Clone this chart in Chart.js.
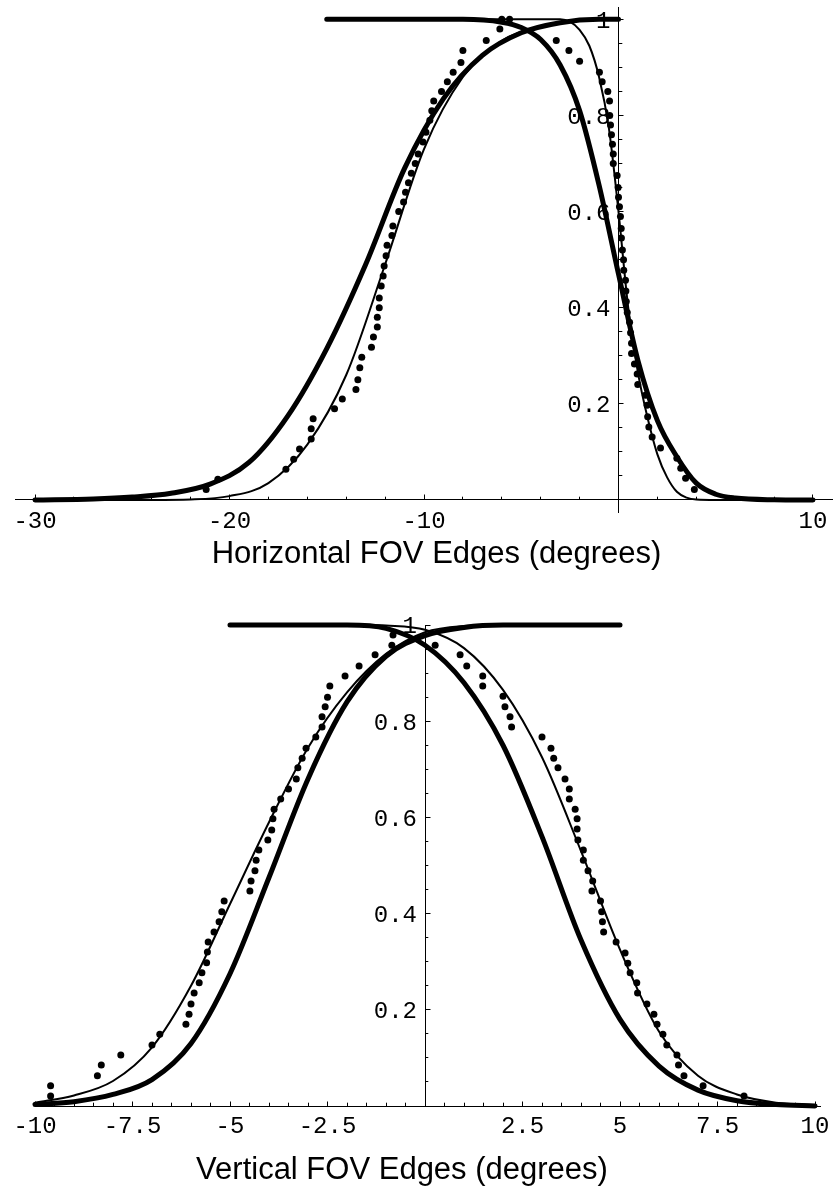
<!DOCTYPE html>
<html><head><meta charset="utf-8">
<script src="https://cdn.jsdelivr.net/npm/chart.js@4.4.1/dist/chart.umd.min.js"></script>
<style>
html,body{margin:0;padding:0;background:#fff;}
body{position:relative;width:833px;height:1191px;overflow:hidden;}
canvas{position:absolute;}
#c1{left:-30px;top:-40px;}
#c2{left:-40px;top:560px;}
</style></head><body>
<canvas id="c1" width="900" height="633"></canvas>
<canvas id="c2" width="900" height="644"></canvas>
<script>
// ---------- Horizontal FOV chart data ----------
const hThickRiseX = [-30, -27, -25, -23, -21, -19, -17, -15, -13, -11, -9, -7, -5, -3, -1, 0];
const hThickRiseY = [0, 0.002, 0.006, 0.014, 0.033, 0.078, 0.175, 0.315, 0.49, 0.69, 0.835, 0.925, 0.972, 0.993, 1, 1];
const hThinRiseX = [-30, -24, -22, -20, -18, -16, -14, -12, -10, -8, -6, -4, -2, 0];
const hThinRiseY = [0, 0, 0.001, 0.008, 0.035, 0.115, 0.26, 0.49, 0.73, 0.88, 0.955, 0.985, 0.998, 1];
const hThickFallX = [-15, -8, -6, -5, -4, -3, -2, -1, 0, 1, 2, 3, 4, 5, 6, 8, 10];
const hThickFallY = [1, 1, 0.994, 0.983, 0.958, 0.905, 0.81, 0.655, 0.47, 0.29, 0.165, 0.09, 0.035, 0.012, 0.004, 0.0005, 0];
const hThinFallX = [-15, -3, -2.5, -2, -1.5, -1, -0.5, 0, 0.5, 1, 1.5, 2, 2.5, 3, 3.5, 4, 5, 10];
const hThinFallY = [1, 1, 0.995, 0.978, 0.945, 0.88, 0.775, 0.60, 0.40, 0.265, 0.17, 0.095, 0.047, 0.017, 0.005, 0.001, 0, 0];
const hDotsRiseX = [-21.2, -20.6, -17.1, -16.7, -16.4, -15.8, -15.8, -15.7, -14.6, -14.2, -13.5, -13.4, -13.3, -13.2, -12.7, -12.6, -12.4, -12.4, -12.3, -12.3, -12.2, -12.1, -12.05, -11.95, -11.9, -11.65, -11.6, -11.3, -11.05, -10.95, -10.8, -10.65, -10.45, -10.3, -10.05, -9.9, -9.7, -9.6, -9.5, -9.1, -8.8, -8.5, -8.1, -8.0, -6.8, -6.1, -6.0, -5.6];
const hDotsRiseY = [0.022, 0.043, 0.064, 0.085, 0.106, 0.127, 0.148, 0.169, 0.19, 0.21, 0.23, 0.25, 0.275, 0.297, 0.318, 0.339, 0.36, 0.38, 0.40, 0.42, 0.445, 0.466, 0.487, 0.508, 0.53, 0.55, 0.57, 0.60, 0.62, 0.64, 0.66, 0.68, 0.70, 0.72, 0.745, 0.765, 0.79, 0.81, 0.83, 0.85, 0.87, 0.89, 0.91, 0.935, 0.956, 0.98, 1.0, 1.0];
const hDotsFallX = [-3.2, -2.55, -2.0, -0.98, -0.84, -0.55, -0.46, -0.45, -0.41, -0.36, -0.31, -0.27, -0.27, -0.07, -0.02, 0.0, 0.05, 0.1, 0.14, 0.15, 0.2, 0.26, 0.27, 0.36, 0.38, 0.40, 0.45, 0.57, 0.62, 0.67, 0.67, 0.82, 0.96, 0.99, 1.38, 1.47, 1.5, 1.56, 1.73, 2.16, 3.0, 3.2, 3.45, 3.9];
const hDotsFallY = [0.956, 0.935, 0.913, 0.89, 0.87, 0.85, 0.83, 0.80, 0.78, 0.76, 0.74, 0.72, 0.70, 0.675, 0.65, 0.63, 0.61, 0.59, 0.565, 0.545, 0.52, 0.50, 0.478, 0.457, 0.435, 0.413, 0.39, 0.37, 0.348, 0.326, 0.305, 0.283, 0.262, 0.24, 0.218, 0.197, 0.173, 0.152, 0.131, 0.108, 0.087, 0.066, 0.045, 0.022];
const hXMajor = [-30, -20, -10, 10];
const hXLabels = ['-30', '-20', '-10', '10'];
const hXMinor = [-28, -26, -24, -22, -18, -16, -14, -12, -8, -6, -4, -2, 2, 4, 6, 8];
const hYMajor = [0.2, 0.4, 0.6, 0.8, 1];
const hYLabels = ['0.2', '0.4', '0.6', '0.8', '1'];
const hYMinor = [0.05, 0.1, 0.15, 0.25, 0.3, 0.35, 0.45, 0.5, 0.55, 0.65, 0.7, 0.75, 0.85, 0.9, 0.95];
const hTitle = 'Horizontal FOV Edges (degrees)';

// ---------- Vertical FOV chart data ----------
const vThickRiseX = [-10, -9, -8, -7, -6, -5, -4, -3, -2, -1, 0, 1, 2, 5];
const vThickRiseY = [0.003, 0.009, 0.024, 0.055, 0.13, 0.275, 0.475, 0.68, 0.84, 0.935, 0.978, 0.995, 1, 1];
const vThinRiseX = [-10, -9, -8, -7, -6, -5, -4, -3, -2, -1, 0, 1, 2, 5];
const vThinRiseY = [0.007, 0.022, 0.052, 0.122, 0.25, 0.42, 0.59, 0.745, 0.86, 0.94, 0.985, 0.998, 1, 1];
const vThickFallX = [-5, -2, -1, 0, 1, 2, 3, 4, 5, 6, 7, 8, 9, 10];
const vThickFallY = [1, 1, 0.993, 0.958, 0.88, 0.75, 0.56, 0.345, 0.18, 0.083, 0.033, 0.011, 0.003, 0];
const vThinFallX = [-5, -1.5, -1, 0, 1, 2, 3, 4, 5, 6, 7, 8, 9, 10];
const vThinFallY = [1, 1, 0.999, 0.99, 0.952, 0.865, 0.725, 0.53, 0.325, 0.155, 0.063, 0.024, 0.007, 0.002];
const vDotsRiseX = [-9.6, -9.6, -8.4, -8.3, -7.8, -7.0, -6.8, -6.13, -6.05, -6.0, -5.92, -5.79, -5.72, -5.6, -5.58, -5.56, -5.41, -5.28, -5.21, -5.15, -4.49, -4.46, -4.36, -4.33, -4.26, -4.03, -3.93, -3.9, -3.87, -3.7, -3.5, -3.3, -3.26, -3.15, -3.05, -2.8, -2.64, -2.64, -2.56, -2.5, -2.44, -2.05, -1.69, -1.28, -0.85, -0.82];
const vDotsRiseY = [0.021, 0.042, 0.063, 0.085, 0.106, 0.127, 0.149, 0.170, 0.191, 0.212, 0.235, 0.256, 0.277, 0.298, 0.32, 0.341, 0.362, 0.383, 0.404, 0.426, 0.447, 0.468, 0.489, 0.511, 0.532, 0.553, 0.574, 0.597, 0.617, 0.638, 0.659, 0.68, 0.703, 0.723, 0.744, 0.767, 0.788, 0.809, 0.83, 0.85, 0.873, 0.894, 0.915, 0.938, 0.958, 0.979];
const vDotsFallX = [0.26, 0.9, 1.07, 1.48, 1.48, 2.0, 2.05, 2.18, 2.22, 3.0, 3.23, 3.3, 3.41, 3.59, 3.7, 3.7, 3.85, 3.9, 3.9, 3.92, 4.06, 4.06, 4.18, 4.3, 4.28, 4.5, 4.53, 4.55, 4.58, 4.9, 5.13, 5.2, 5.26, 5.43, 5.45, 5.69, 5.87, 5.95, 6.1, 6.2, 6.46, 6.5, 6.64, 7.13, 8.18];
const vDotsFallY = [0.958, 0.938, 0.915, 0.894, 0.873, 0.852, 0.83, 0.809, 0.788, 0.767, 0.744, 0.723, 0.703, 0.68, 0.659, 0.638, 0.617, 0.597, 0.576, 0.553, 0.532, 0.511, 0.489, 0.468, 0.447, 0.426, 0.404, 0.383, 0.362, 0.341, 0.318, 0.297, 0.277, 0.256, 0.235, 0.212, 0.191, 0.170, 0.149, 0.127, 0.106, 0.085, 0.063, 0.042, 0.021];
const vXMajor = [-10, -7.5, -5, -2.5, 2.5, 5, 7.5, 10];
const vXLabels = ['-10', '-7.5', '-5', '-2.5', '2.5', '5', '7.5', '10'];
const vXMinor = [-9.5, -9, -8.5, -8, -7, -6.5, -6, -5.5, -4.5, -4, -3.5, -3, -2, -1.5, -1, -0.5, 0.5, 1, 1.5, 2, 3, 3.5, 4, 4.5, 5.5, 6, 6.5, 7, 8, 8.5, 9, 9.5];
const vYMajor = [0.2, 0.4, 0.6, 0.8, 1];
const vYLabels = ['0.2', '0.4', '0.6', '0.8', '1'];
const vYMinor = [0.05, 0.1, 0.15, 0.25, 0.3, 0.35, 0.45, 0.5, 0.55, 0.65, 0.7, 0.75, 0.85, 0.9, 0.95];
const vTitle = 'Vertical FOV Edges (degrees)';

// ---------- helpers ----------
const monoFont = {family: "'Liberation Mono', 'Courier New', monospace", size: 24, weight: 'normal'};
const sansFont = {family: "'Liberation Sans', Arial, Helvetica, sans-serif", size: 31, weight: 'normal'};
const pts = (xs, ys) => xs.map((x, i) => ({x: x, y: ys[i]}));
const curve = (xs, ys, w) => ({
  data: pts(xs, ys), showLine: true, borderColor: '#000', borderWidth: w,
  pointRadius: 0, pointHoverRadius: 0, cubicInterpolationMode: 'monotone',
  borderCapStyle: 'round', borderJoinStyle: 'round', clip: false, xAxisID: 'x', yAxisID: 'y'
});
const dots = (xs, ys) => ({
  data: pts(xs, ys), showLine: false, pointRadius: 3.5, pointHoverRadius: 3.5,
  pointBackgroundColor: '#000', pointBorderWidth: 0, clip: false, xAxisID: 'x', yAxisID: 'y'
});
const setTicks = vals => axis => { axis.ticks = vals.map(v => ({value: v})); };

function makeScales(c) {
  const tickGrid = len => ({display: true, drawOnChartArea: false, drawTicks: true, tickLength: len, tickColor: '#000', tickWidth: 1});
  return {
    x: {type: 'linear', axis: 'x', min: c.xMin, max: c.xMax, position: {y: 0},
        afterBuildTicks: setTicks(c.xMajor),
        border: {display: true, color: '#000', width: 1},
        grid: tickGrid(-5.5),
        ticks: {display: true, autoSkip: false, maxRotation: 0, minRotation: 0, padding: c.xPad,
                font: monoFont, color: '#000', callback: (v, i) => c.xLabels[i]}},
    xm: {type: 'linear', axis: 'x', min: c.xMin, max: c.xMax, position: {y: 0},
        afterBuildTicks: setTicks(c.xMinor),
        border: {display: false}, grid: tickGrid(-3.3), ticks: {display: false, autoSkip: false}},
    y: {type: 'linear', axis: 'y', min: c.yMin, max: c.yMax, position: {x: 0},
        afterBuildTicks: setTicks(c.yMajor),
        border: {display: true, color: '#000', width: 1},
        grid: tickGrid(-5.5), ticks: {display: false, autoSkip: false}},
    ym: {type: 'linear', axis: 'y', min: c.yMin, max: c.yMax, position: {x: 0},
        afterBuildTicks: setTicks(c.yMinor),
        border: {display: false}, grid: tickGrid(-3.3), ticks: {display: false, autoSkip: false}},
    yl: {type: 'linear', axis: 'y', min: c.yMin, max: c.yMax, position: {x: c.yLabelAt},
        afterBuildTicks: setTicks(c.yMajor),
        border: {display: false}, grid: {display: false, drawTicks: false},
        ticks: {display: true, autoSkip: false, padding: 0, labelOffset: 2, font: monoFont, color: '#000',
                callback: (v, i) => c.yLabels[i]}},
    sp: {type: 'linear', axis: 'y', position: c.spacerPos, display: true,
        border: {display: false},
        grid: {display: true, drawOnChartArea: false, drawTicks: true, tickLength: c.spacerWidth, tickColor: 'rgba(0,0,0,0)'},
        ticks: {display: false}}
  };
}

function makeChart(id, datasets, scales, title, titlePad, layoutPad) {
  return new Chart(document.getElementById(id), {
    type: 'scatter',
    data: {datasets: datasets},
    options: {
      responsive: false, animation: false, devicePixelRatio: 1, events: [],
      layout: {padding: layoutPad},
      scales: scales,
      plugins: {
        legend: {display: false},
        tooltip: {enabled: false},
        title: {display: true, text: title, position: 'bottom', align: 'center', color: '#000',
                font: sansFont, padding: titlePad}
      }
    }
  });
}

makeChart('c1', [
  dots(hDotsRiseX, hDotsRiseY),
  dots(hDotsFallX, hDotsFallY),
  curve(hThinRiseX, hThinRiseY, 2),
  curve(hThinFallX, hThinFallY, 2),
  curve(hThickRiseX, hThickRiseY, 5),
  curve(hThickFallX, hThickFallY, 5)
], makeScales({
  xMin: -31, xMax: 11, yMin: -0.025, yMax: 1.025,
  xMajor: hXMajor, xLabels: hXLabels, xMinor: hXMinor,
  yMajor: hYMajor, yLabels: hYLabels, yMinor: hYMinor,
  xPad: 13, yLabelAt: -0.41, spacerPos: 'right', spacerWidth: 25
}), hTitle, {top: 23.7, bottom: 10}, {left: 45.55, right: 12.55, top: 47.3, bottom: 10.1});

makeChart('c2', [
  dots(vDotsRiseX, vDotsRiseY),
  dots(vDotsFallX, vDotsFallY),
  curve(vThinRiseX, vThinRiseY, 2),
  curve(vThinFallX, vThinFallY, 2),
  curve(vThickRiseX, vThickRiseY, 5),
  curve(vThickFallX, vThickFallY, 5)
], makeScales({
  xMin: -10, xMax: 10.128, yMin: 0, yMax: 1,
  xMajor: vXMajor, xLabels: vXLabels, xMinor: vXMinor,
  yMajor: vYMajor, yLabels: vYLabels, yMinor: vYMinor,
  xPad: 12, yLabelAt: -0.205, spacerPos: 'left', spacerWidth: 51
}), vTitle, {top: 45.7, bottom: 5}, {left: 24, right: 40, top: 65, bottom: 10.1});
</script>
</body></html>
